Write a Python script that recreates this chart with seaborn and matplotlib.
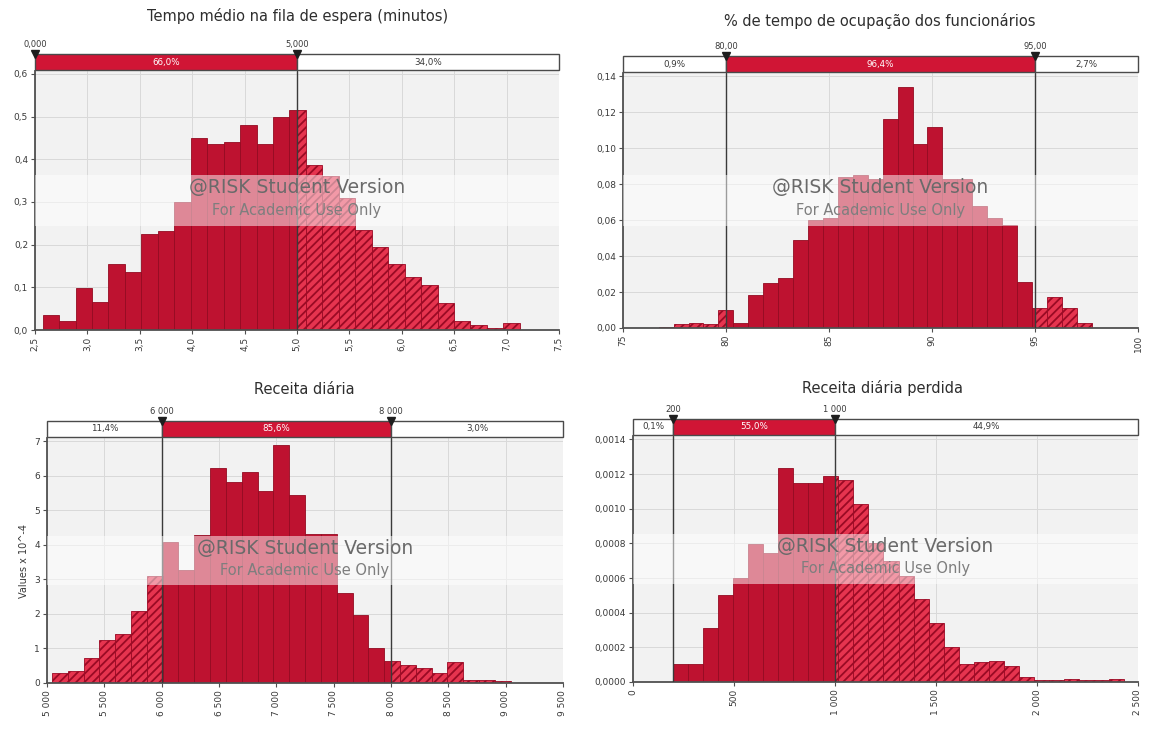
import numpy as np
import pandas as pd
import matplotlib
matplotlib.use("Agg")
import matplotlib.pyplot as plt
from matplotlib.patches import Rectangle
import seaborn as sns

sns.set_theme(style="white")
plt.rcParams["font.family"] = ["DejaVu Sans"]
plt.rcParams["hatch.linewidth"] = 1.3

# ---------------- Tempo médio na fila de espera (minutos) ----------------
espera_titulo = "Tempo médio na fila de espera (minutos)"
espera_inicio = 2.573
espera_largura = 0.157
espera_dens = [0.035, 0.020, 0.098, 0.065, 0.154, 0.137, 0.224, 0.233, 0.300,
               0.450, 0.436, 0.440, 0.480, 0.436, 0.500, 0.515, 0.387, 0.360,
               0.310, 0.234, 0.195, 0.154, 0.125, 0.105, 0.0625, 0.022, 0.012,
               0.004, 0.016]
espera_limites = [0.0, 5.0]
espera_rot_limites = ["0,000", "5,000"]
espera_percent = ["", "66,0%", "34,0%"]
espera_xticks = [2.5, 3.0, 3.5, 4.0, 4.5, 5.0, 5.5, 6.0, 6.5, 7.0, 7.5]
espera_xlabels = ["2,5", "3,0", "3,5", "4,0", "4,5", "5,0", "5,5", "6,0", "6,5", "7,0", "7,5"]
espera_yticks = [0.0, 0.1, 0.2, 0.3, 0.4, 0.5, 0.6]
espera_ylabels = ["0,0", "0,1", "0,2", "0,3", "0,4", "0,5", "0,6"]

# ---------------- % de tempo de ocupação dos funcionários ----------------
ocup_titulo = "% de tempo de ocupação dos funcionários"
ocup_inicio = 76.73
ocup_largura = 0.725
ocup_dens = [0.0008, 0.0025, 0.0028, 0.0022, 0.010, 0.0028, 0.0185, 0.025,
             0.028, 0.049, 0.060, 0.061, 0.084, 0.085, 0.083, 0.116, 0.134,
             0.102, 0.1115, 0.083, 0.083, 0.068, 0.061, 0.057, 0.0257, 0.011,
             0.0174, 0.011, 0.003]
ocup_limites = [80.0, 95.0]
ocup_rot_limites = ["80,00", "95,00"]
ocup_percent = ["0,9%", "96,4%", "2,7%"]
ocup_xticks = [75, 80, 85, 90, 95, 100]
ocup_xlabels = ["75", "80", "85", "90", "95", "100"]
ocup_yticks = [0.00, 0.02, 0.04, 0.06, 0.08, 0.10, 0.12, 0.14]
ocup_ylabels = ["0,00", "0,02", "0,04", "0,06", "0,08", "0,10", "0,12", "0,14"]

# ---------------- Receita diária (valores x 10^-4) ----------------
receita_titulo = "Receita diária"
receita_inicio = 5042.5
receita_largura = 138.0
receita_dens = [0.29, 0.36, 0.72, 1.25, 1.42, 2.07, 3.10, 4.09, 3.27, 4.29,
                6.21, 5.83, 6.12, 5.57, 6.89, 5.44, 4.30, 4.30, 2.60, 1.97,
                1.02, 0.63, 0.53, 0.43, 0.29, 0.62, 0.08, 0.08, 0.07]
receita_limites = [6000.0, 8000.0]
receita_rot_limites = ["6 000", "8 000"]
receita_percent = ["11,4%", "85,6%", "3,0%"]
receita_xticks = [5000, 5500, 6000, 6500, 7000, 7500, 8000, 8500, 9000, 9500]
receita_xlabels = ["5 000", "5 500", "6 000", "6 500", "7 000", "7 500",
                   "8 000", "8 500", "9 000", "9 500"]
receita_yticks = [0, 1, 2, 3, 4, 5, 6, 7]
receita_ylabels = ["0", "1", "2", "3", "4", "5", "6", "7"]

# ---------------- Receita diária perdida ----------------
perdida_titulo = "Receita diária perdida"
perdida_inicio = 197.0
perdida_largura = 74.5
perdida_dens = [0.000106, 0.000106, 0.000309, 0.000501, 0.000598, 0.000796,
                0.000746, 0.001234, 0.001147, 0.001147, 0.001189, 0.001166,
                0.001030, 0.000800, 0.000700, 0.000610, 0.000480, 0.000340,
                0.000200, 0.000106, 0.000113, 0.000121, 0.000095, 0.000030,
                0.000010, 0.000010, 0.000020, 0.000010, 0.000010, 0.000020]
perdida_limites = [200.0, 1000.0]
perdida_rot_limites = ["200", "1 000"]
perdida_percent = ["0,1%", "55,0%", "44,9%"]
perdida_xticks = [0, 500, 1000, 1500, 2000, 2500]
perdida_xlabels = ["0", "500", "1 000", "1 500", "2 000", "2 500"]
perdida_yticks = [0.0, 0.0002, 0.0004, 0.0006, 0.0008, 0.0010, 0.0012, 0.0014]
perdida_ylabels = ["0,0000", "0,0002", "0,0004", "0,0006", "0,0008",
                   "0,0010", "0,0012", "0,0014"]

W, H = 1149, 729
fig = plt.figure(figsize=(W / 100, H / 100), dpi=100)
fig.patch.set_facecolor("white")

RED = "#BE1230"
RED_EDGE = "#940B22"
HATCH_FACE = "#E6344F"
HATCH_EDGE = "#9A0A24"
BAR_RED = "#D01535"
TXT = "#3A3A3A"


def px_axes(left, top, right, bottom):
    return [left / W, (H - bottom) / H, (right - left) / W, (bottom - top) / H]


def painel(box, titulo, titulo_xy, inicio, largura, dens, limites, rot_limites,
           percent, xlim, xticks, xlabels, ytop, yticks, ylabels, ylabel=None):
    left, top, right, bottom = box
    ax = fig.add_axes(px_axes(left, top, right, bottom))
    ax.set_facecolor("#F2F2F2")

    # histogram bins, split at the delimiters so each side gets its own style
    edges = inicio + largura * np.arange(len(dens) + 1)
    cortes = np.array(sorted(set(np.round(edges, 6)) |
                             {d for d in limites if edges[0] < d < edges[-1]}))
    centros = (cortes[:-1] + cortes[1:]) / 2
    idx = np.searchsorted(edges, centros) - 1
    df = pd.DataFrame({"valor": centros, "peso": np.asarray(dens)[idx]})
    sns.histplot(data=df, x="valor", weights="peso", bins=[float(c) for c in cortes],
                 stat="count", ax=ax, color=RED, alpha=1, edgecolor=RED_EDGE,
                 linewidth=0.6, zorder=2)
    lo, hi = limites
    for p in ax.patches:
        xc = p.get_x() + p.get_width() / 2
        if xc < lo or xc > hi:
            p.set_facecolor(HATCH_FACE)
            p.set_edgecolor(HATCH_EDGE)
            p.set_hatch("////")

    ax.set_xlim(*xlim)
    ax.set_ylim(0, ytop)
    ax.set_xticks(xticks)
    ax.set_xticklabels(xlabels, rotation=90, fontsize=6.5, color=TXT)
    ax.set_yticks(yticks)
    ax.set_yticklabels(ylabels, fontsize=6.5, color=TXT)
    ax.set_xlabel("")
    ax.set_ylabel(ylabel if ylabel else "", fontsize=7, color=TXT, labelpad=4)
    ax.grid(True, color="#D9D9D9", linewidth=0.7)
    ax.set_axisbelow(True)
    for s in ("top", "right"):
        ax.spines[s].set_visible(False)
    for s in ("left", "bottom"):
        ax.spines[s].set_color("#505050")
        ax.spines[s].set_linewidth(1.3)
    ax.tick_params(axis="both", which="major", length=3, width=0.8,
                   color="#505050", pad=2, direction="out",
                   bottom=True, left=True)

    for d in limites:
        if xlim[0] < d < xlim[1]:
            ax.axvline(d, color="#3A3A3A", linewidth=1.0, zorder=4)

    # watermark band and text
    ax.add_patch(Rectangle((0, 0.40), 1, 0.20, transform=ax.transAxes,
                           facecolor="white", alpha=0.5, edgecolor="none",
                           zorder=5))
    ax.text(0.5, 0.55, "@RISK Student Version", transform=ax.transAxes,
            ha="center", va="center", fontsize=13.5, color="#6A6A6A", zorder=6)
    ax.text(0.5, 0.46, "For Academic Use Only", transform=ax.transAxes,
            ha="center", va="center", fontsize=10.5, color="#7E7E7E", zorder=6)

    # delimiter strip above the plot
    bax = fig.add_axes(px_axes(left, top - 18, right, top))
    bax.set_xlim(*xlim)
    bax.set_ylim(0, 1)
    bax.axis("off")
    pos = [min(max(d, xlim[0]), xlim[1]) for d in limites]
    bordas = [xlim[0]] + pos + [xlim[1]]
    cores = ["white", BAR_RED, "white"]
    cores_txt = [TXT, "white", TXT]
    for i in range(3):
        a, b = bordas[i], bordas[i + 1]
        if b - a <= 0:
            continue
        bax.add_patch(Rectangle((a, 0.05), b - a, 0.9, facecolor=cores[i],
                                edgecolor="#4A4A4A", linewidth=1.0,
                                clip_on=False))
        if percent[i]:
            bax.text((a + b) / 2, 0.5, percent[i], ha="center", va="center",
                     fontsize=6.3, color=cores_txt[i])
    for x, rot in zip(pos, rot_limites):
        bax.plot([x], [0.97], marker="v", color="#1E1E1E", markersize=6,
                 clip_on=False, zorder=5)
        bax.text(x, 1.25, rot, ha="center", va="bottom", fontsize=6,
                 color=TXT, clip_on=False)

    fig.text(titulo_xy[0] / W, 1 - titulo_xy[1] / H, titulo, ha="center",
             va="center", fontsize=10.5, color="#2E2E2E")
    return ax


painel((35, 71, 559, 330), espera_titulo, (298, 16), espera_inicio,
       espera_largura, espera_dens, espera_limites, espera_rot_limites,
       espera_percent, (2.5, 7.5), espera_xticks, espera_xlabels, 0.607,
       espera_yticks, espera_ylabels)

painel((623, 73, 1138, 328), ocup_titulo, (880, 21), ocup_inicio,
       ocup_largura, ocup_dens, ocup_limites, ocup_rot_limites,
       ocup_percent, (75, 100), ocup_xticks, ocup_xlabels, 0.1417,
       ocup_yticks, ocup_ylabels)

painel((47, 438, 563, 683), receita_titulo, (304, 390), receita_inicio,
       receita_largura, receita_dens, receita_limites, receita_rot_limites,
       receita_percent, (5000, 9500), receita_xticks, receita_xlabels, 7.09,
       receita_yticks, receita_ylabels, ylabel="Values x 10^-4")

painel((633, 436, 1138, 682), perdida_titulo, (883, 388), perdida_inicio,
       perdida_largura, perdida_dens, perdida_limites, perdida_rot_limites,
       perdida_percent, (0, 2500), perdida_xticks, perdida_xlabels, 0.00142,
       perdida_yticks, perdida_ylabels)

fig.savefig("out.png", dpi=100, facecolor="white")
